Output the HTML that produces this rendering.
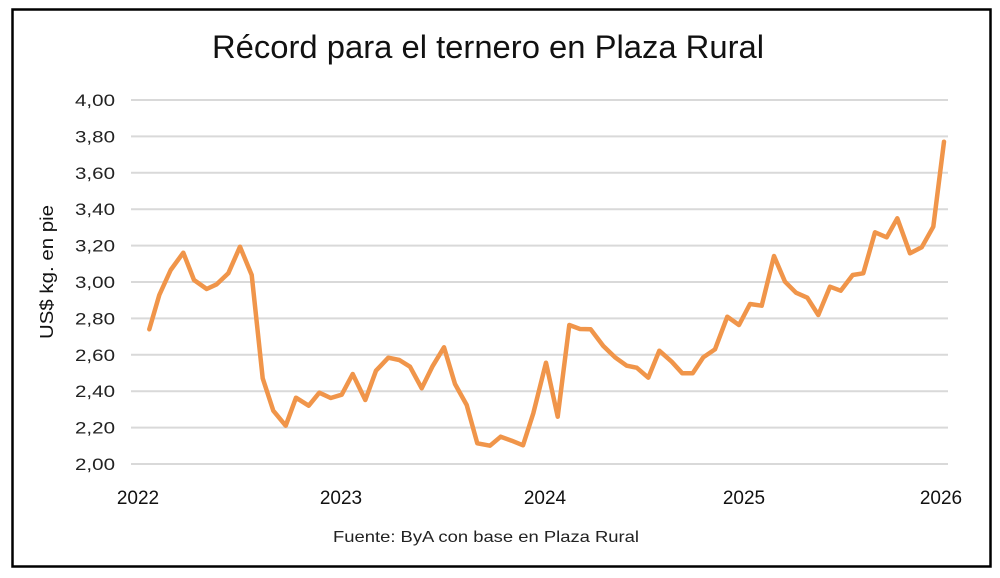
<!DOCTYPE html>
<html><head><meta charset="utf-8"><style>
html,body{margin:0;padding:0;background:#fff;}
svg{display:block;font-family:"Liberation Sans",sans-serif;}
</style></head><body>
<svg width="1000" height="578" viewBox="0 0 1000 578" xmlns="http://www.w3.org/2000/svg">
<rect x="0" y="0" width="1000" height="578" fill="#fff"/>
<rect x="12.5" y="9.5" width="978" height="557" fill="#fff" stroke="#000" stroke-width="2.5"/>
<text x="488" y="58" font-size="32" text-anchor="middle" fill="#111" textLength="552" lengthAdjust="spacingAndGlyphs">Récord para el ternero en Plaza Rural</text>
<g stroke="#d9d9d9" stroke-width="2">
<line x1="131" x2="948" y1="100" y2="100"/>
<line x1="131" x2="948" y1="136.4" y2="136.4"/>
<line x1="131" x2="948" y1="172.8" y2="172.8"/>
<line x1="131" x2="948" y1="209.2" y2="209.2"/>
<line x1="131" x2="948" y1="245.6" y2="245.6"/>
<line x1="131" x2="948" y1="282" y2="282"/>
<line x1="131" x2="948" y1="318.4" y2="318.4"/>
<line x1="131" x2="948" y1="354.8" y2="354.8"/>
<line x1="131" x2="948" y1="391.2" y2="391.2"/>
<line x1="131" x2="948" y1="427.6" y2="427.6"/>
<line x1="131" x2="948" y1="464" y2="464"/>
</g>
<g font-size="17" fill="#222" text-anchor="end">
<text x="115" y="106" textLength="40" lengthAdjust="spacingAndGlyphs">4,00</text>
<text x="115" y="142.4" textLength="40" lengthAdjust="spacingAndGlyphs">3,80</text>
<text x="115" y="178.8" textLength="40" lengthAdjust="spacingAndGlyphs">3,60</text>
<text x="115" y="215.2" textLength="40" lengthAdjust="spacingAndGlyphs">3,40</text>
<text x="115" y="251.6" textLength="40" lengthAdjust="spacingAndGlyphs">3,20</text>
<text x="115" y="288" textLength="40" lengthAdjust="spacingAndGlyphs">3,00</text>
<text x="115" y="324.4" textLength="40" lengthAdjust="spacingAndGlyphs">2,80</text>
<text x="115" y="360.8" textLength="40" lengthAdjust="spacingAndGlyphs">2,60</text>
<text x="115" y="397.2" textLength="40" lengthAdjust="spacingAndGlyphs">2,40</text>
<text x="115" y="433.6" textLength="40" lengthAdjust="spacingAndGlyphs">2,20</text>
<text x="115" y="470" textLength="40" lengthAdjust="spacingAndGlyphs">2,00</text>
</g>
<g font-size="19" fill="#111" text-anchor="middle">
<text x="138" y="504">2022</text>
<text x="341" y="504">2023</text>
<text x="545" y="504">2024</text>
<text x="744" y="504">2025</text>
<text x="941" y="504">2026</text>
</g>
<text x="486" y="542" font-size="16" text-anchor="middle" fill="#222" textLength="306" lengthAdjust="spacingAndGlyphs">Fuente: ByA con base en Plaza Rural</text>
<text transform="translate(53,272) rotate(-90)" font-size="18" text-anchor="middle" fill="#111" textLength="134" lengthAdjust="spacingAndGlyphs">US$ kg. en pie</text>
<polyline fill="none" stroke="#f0954a" stroke-width="4.5" stroke-linejoin="round" stroke-linecap="round" points="
149.3,329.3 159.3,295 170.7,270 183.3,252.7 194,280 206.7,289 216.7,284.3 228.3,273.3 240,246.7 251.7,275
262.7,378.3 273.3,410.7 285.7,425.7 296,397.7 308.7,405.7 319.3,392.7 330.7,398 341.7,394.7 352.7,374 365.3,400
376,370.7 388.3,357.7 399.3,360 410,366.7 421.7,388.3 432.3,366.7 444,347.3 455,384 466.7,405 477.3,443.3
490,445.7 500.7,436.7 511.7,440.7 523,445.3 533.3,413.3 546,362.7 557.7,416.7 569.3,325 580,329 590.7,329.3
603.3,346 615,357.3 626.7,365.7 636.7,367.7 648.3,377.7 659.3,350.7 671.7,361.7 682.3,373.3 692.7,373.3 703.3,357.3
715,349.3 727.3,316.7 739,325 750,304 761.7,305.7 774,256 785,281.7 796,292.7 807.3,297.7 818.3,315
830,286.7 840.7,290.7 852.7,275 863.3,273.3 875,232.3 886.7,237.3 897.3,218.3 910,253.3 921.7,247.3 933.3,226.7 944,141.7"/>
</svg>
</body></html>
